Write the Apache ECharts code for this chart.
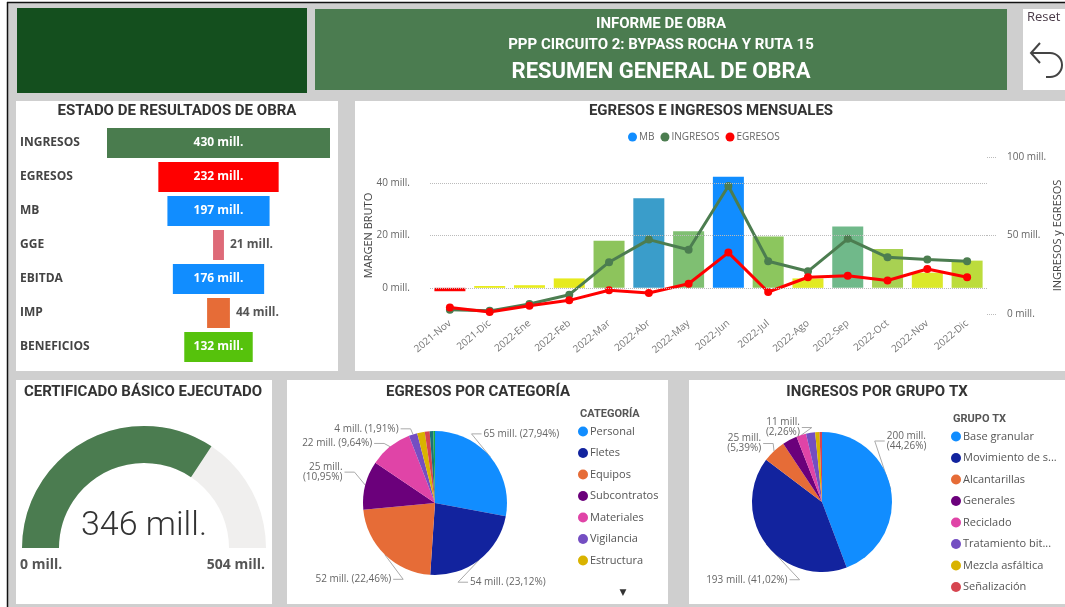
<!DOCTYPE html>
<html>
<head>
<meta charset="utf-8">
<script src="https://cdn.jsdelivr.net/npm/echarts@6/dist/echarts.min.js"></script>
<style>
  html, body { margin: 0; padding: 0; background: #fff; }
  #main { width: 1065px; height: 607px; }
</style>
</head>
<body>
<div id="main"></div>
<script>
// ---- data ----
var estadoCategorias = ['INGRESOS', 'EGRESOS', 'MB', 'GGE', 'EBITDA', 'IMP', 'BENEFICIOS'];
var estadoValores = [430, 232, 197, 21, 176, 44, 132];

var meses = ['2021-Nov', '2021-Dic', '2022-Ene', '2022-Feb', '2022-Mar', '2022-Abr', '2022-May',
  '2022-Jun', '2022-Jul', '2022-Ago', '2022-Sep', '2022-Oct', '2022-Nov', '2022-Dic'];
var margenBruto = [-1.3, 0.7, 1.0, 3.6, 18.0, 34.2, 21.6, 42.5, 19.6, 3.6, 23.4, 14.8, 5.8, 10.4];
var ingresosMes = [2.7, 2.0, 6.4, 12.3, 33.0, 47.4, 40.9, 81.5, 33.6, 27.2, 47.9, 36.1, 34.7, 33.6];
var egresosMes = [4.2, 1.3, 5.3, 8.7, 15.1, 13.4, 19.3, 39.1, 14.0, 23.4, 24.3, 21.3, 28.7, 23.4];

var certificadoEjecutado = 346;
var certificadoTotal = 504;

var categorias = ['Personal', 'Fletes', 'Equipos', 'Subcontratos', 'Materiales', 'Vigilancia',
  'Estructura', 'Otros', 'Varios', 'Resto'];
var egresosCatMill = [65, 54, 52, 25, 22, 4, 4, 3, 2, 1];
var egresosCatPct = [27.94, 23.12, 22.46, 10.95, 9.64, 1.91, 1.70, 1.10, 0.80, 0.38];

var gruposTx = ['Base granular', 'Movimiento de suelos', 'Alcantarillas', 'Generales', 'Reciclado',
  'Tratamiento bituminoso', 'Mezcla asfáltica', 'Señalización'];
var ingresosTxMill = [200, 193, 25, 16, 11, 10, 5, 3];
var ingresosTxPct = [44.26, 41.02, 5.39, 3.40, 2.26, 2.10, 1.00, 0.57];

// ---- styles ----
var estadoColores = ['#4a7c4e', '#ff0000', '#118dff', '#de6a78', '#118dff', '#e66c37', '#56c20c'];
var barColores = ['#ff0000', '#e8ec1c', '#e8ec1c', '#e6ea1e', '#8dc45c', '#3a9dca', '#7fbf72',
  '#118dff', '#8cc65e', '#e2ea24', '#70b98a', '#a8d152', '#dbe82a', '#bcdc3c'];
var pbiColores = ['#118dff', '#12239e', '#e66c37', '#6b007b', '#e044a7', '#744ec2', '#d9b300',
  '#d64550', '#197278', '#1aab40'];
var catLabeled = [0, 1, 2, 3, 4, 5], catWrap = [3];
var txLabeled = [0, 1, 2, 4], txWrap = [0, 2, 4];
// label nudges (px) so the pie labels sit where the report puts them
var catShift = [[-32, -18], [-33, 16], [31, 19], [4, -11], [6, 3], [7, 2]];
var txShift = [[-31, -47], [47, 31], [12, -6], [0, 0], [20, 0]];

var FONT = 'Roboto, "Noto Sans", sans-serif';
var TXT = '"Open Sans", "Noto Sans", sans-serif';

function pctTxt(p) { return p.toFixed(2).replace('.', ',') + '%'; }

function pieData(names, pct, labeled) {
  return names.map(function(n, i) {
    var on = labeled.indexOf(i) >= 0;
    return { name: n, value: pct[i], itemStyle: { color: pbiColores[i] },
      label: { show: on }, labelLine: { show: on } };
  });
}

function pieLabel(mill, pct, wrap) {
  return function(p) {
    var i = p.dataIndex;
    return mill[i] + ' mill.' + (wrap.indexOf(i) >= 0 ? '\n' : ' ') + '(' + pctTxt(pct[i]) + ')';
  };
}

function pieLabelLayout(shift) {
  return function(p) {
    var s = shift[p.dataIndex] || [0, 0];
    var r = p.labelRect, pts = p.labelLinePoints;
    if (!pts) return { dx: s[0], dy: s[1] };
    var x = r.x + s[0], cy = r.y + s[1] + r.height / 2;
    var right = x + r.width / 2 > pts[0][0];
    var ex = right ? x - 2 : x + r.width + 2;
    return { dx: s[0], dy: s[1], labelLinePoints: [pts[0], [ex + (right ? -10 : 10), cy], [ex, cy]] };
  };
}

var estadoMax = Math.max.apply(null, estadoValores);

function panel(x, y, w, h, fill) {
  return { type: 'rect', silent: true, shape: { x: x, y: y, width: w, height: h }, style: { fill: fill } };
}
function sectionTitle(text, cx, top) {
  return { text: text, left: cx, top: top, textAlign: 'center', padding: 0,
    textStyle: { fontFamily: FONT, fontSize: 15, fontWeight: 'bold', color: '#333' } };
}
function headerText(text, y, size) {
  return { type: 'text', silent: true, x: 661, y: y, style: { text: text, fill: '#fff',
    font: 'bold ' + size + 'px Roboto', textAlign: 'center', textVerticalAlign: 'middle' } };
}
function iconLine(x1, y1, x2, y2) {
  return { type: 'line', silent: true, shape: { x1: x1, y1: y1, x2: x2, y2: y2 },
    style: { stroke: '#444', lineWidth: 2 } };
}

var chart = echarts.init(document.getElementById('main'));

var option = {
  animation: false,
  textStyle: { fontFamily: TXT },
  graphic: [
    panel(0, 0, 1065, 607, '#ffffff'),
    panel(8, 3, 1057, 604, '#cfcfcf'),
    { type: 'line', silent: true, shape: { x1: 7.5, y1: 2, x2: 7.5, y2: 607 }, style: { stroke: '#111', lineWidth: 1.5 } },
    { type: 'line', silent: true, shape: { x1: 7, y1: 2.5, x2: 1065, y2: 2.5 }, style: { stroke: '#111', lineWidth: 1.5 } },
    panel(17, 8, 290, 85, '#144f1e'),
    panel(315, 9, 692, 81, '#4b7c50'),
    panel(1023, 9, 42, 81, '#ffffff'),
    panel(16, 101, 322, 270, '#ffffff'),
    panel(355, 101, 710, 270, '#ffffff'),
    panel(16, 380, 256, 224, '#ffffff'),
    panel(287, 380, 381, 224, '#ffffff'),
    panel(689, 380, 376, 224, '#ffffff'),
    headerText('INFORME DE OBRA', 24, 15),
    headerText('PPP CIRCUITO 2: BYPASS ROCHA Y RUTA 15', 45, 15),
    headerText('RESUMEN GENERAL DE OBRA', 72, 22),
    { type: 'text', silent: true, x: 1027, y: 11, style: { text: 'Reset', fill: '#4a3b48', font: '13px "Open Sans"' } },
    { type: 'polyline', silent: true, shape: { points: [[1040, 43], [1031, 53], [1040, 63]] },
      style: { stroke: '#444', lineWidth: 2, fill: null } },
    iconLine(1031, 53, 1050, 53),
    { type: 'arc', silent: true, shape: { cx: 1050, cy: 65, r: 12, startAngle: -Math.PI / 2, endAngle: Math.PI / 2, clockwise: true },
      style: { stroke: '#444', lineWidth: 2, fill: null } },
    iconLine(1050, 77, 1046, 77),
    { type: 'text', silent: true, x: 20, y: 565, style: { text: '0 mill.', fill: '#555',
      font: 'bold 14px "Open Sans"', textVerticalAlign: 'middle' } },
    { type: 'text', silent: true, x: 265, y: 565, style: { text: certificadoTotal + ' mill.', fill: '#555',
      font: 'bold 14px "Open Sans"', textAlign: 'right', textVerticalAlign: 'middle' } },
    { type: 'text', silent: true, x: 580, y: 414, style: { text: 'CATEGORÍA', fill: '#555',
      font: 'bold 11px Roboto', textVerticalAlign: 'middle' } },
    { type: 'text', silent: true, x: 953, y: 419, style: { text: 'GRUPO TX', fill: '#555',
      font: 'bold 11px Roboto', textVerticalAlign: 'middle' } },
    { type: 'text', silent: true, x: 623, y: 593, style: { text: '▼', fill: '#333',
      font: '9px "DejaVu Sans"', textAlign: 'center', textVerticalAlign: 'middle' } }
  ],
  title: [
    sectionTitle('ESTADO DE RESULTADOS DE OBRA', 177, 104),
    sectionTitle('EGRESOS E INGRESOS MENSUALES', 711, 104),
    sectionTitle('CERTIFICADO BÁSICO EJECUTADO', 143, 385),
    sectionTitle('EGRESOS POR CATEGORÍA', 478, 385),
    sectionTitle('INGRESOS POR GRUPO TX', 877, 385)
  ],
  legend: [
    { data: ['MB', 'INGRESOS', 'EGRESOS'], left: 628, top: 132, icon: 'circle', itemWidth: 9, itemHeight: 9,
      itemGap: 6, padding: 0, textStyle: { fontSize: 10, color: '#666', padding: [0, 0, 0, -3] } },
    { data: categorias.slice(0, 7), orient: 'vertical', left: 578, top: 426, icon: 'circle', itemWidth: 10,
      itemHeight: 10, itemGap: 10.5, padding: 0, selectedMode: false,
      textStyle: { fontSize: 11, color: '#555', padding: [0, 0, 0, -3] } },
    { data: gruposTx, orient: 'vertical', left: 951, top: 431, icon: 'circle', itemWidth: 10,
      itemHeight: 10, itemGap: 10.5, padding: 0, selectedMode: false,
      textStyle: { fontSize: 11, color: '#555', width: 99, overflow: 'truncate', ellipsis: '...', padding: [0, 0, 0, -3] } }
  ],
  grid: [
    { left: 107, top: 126, width: 223, height: 238, outerBoundsMode: 'none' },
    { left: 430, top: 157, width: 557, height: 157, outerBoundsMode: 'none' }
  ],
  xAxis: [
    { gridIndex: 0, type: 'value', min: 0, max: estadoMax, show: false },
    { gridIndex: 1, type: 'category', data: meses, axisLine: { show: false }, axisTick: { show: false },
      axisLabel: { rotate: 40, fontSize: 10, color: '#777', margin: 8 } }
  ],
  yAxis: [
    { gridIndex: 0, type: 'category', data: estadoCategorias, inverse: true,
      axisLine: { show: false }, axisTick: { show: false },
      axisLabel: { align: 'left', margin: 87, fontFamily: TXT, fontSize: 12, fontWeight: 'bold', color: '#444' } },
    { gridIndex: 1, type: 'value', min: -10, max: 50, interval: 10, splitLine: { show: false },
      axisLabel: { fontSize: 10, color: '#666', margin: 20,
        formatter: function(v) { return (v >= 0 && v % 20 === 0) ? v + ' mill.' : ''; } },
      name: 'MARGEN BRUTO', nameLocation: 'middle', nameGap: 56, nameRotate: 90, nameMoveOverlap: false,
      nameTextStyle: { fontSize: 11, color: '#444' } },
    { gridIndex: 1, type: 'value', position: 'right', min: 0, max: 100, interval: 50, splitLine: { show: false },
      axisTick: { show: true, length: 10, lineStyle: { type: 'dotted', color: '#bbb' } },
      axisLabel: { fontSize: 10, color: '#666', margin: 20, formatter: '{value} mill.' },
      name: 'INGRESOS y EGRESOS', nameLocation: 'middle', nameGap: 65, nameRotate: 90, nameMoveOverlap: false,
      nameTextStyle: { fontSize: 11, color: '#444' } }
  ],
  series: [
    { type: 'bar', xAxisIndex: 0, yAxisIndex: 0, stack: 'f', silent: true, barWidth: 30,
      itemStyle: { color: 'transparent' },
      data: estadoValores.map(function(v) { return (estadoMax - v) / 2; }) },
    { type: 'bar', xAxisIndex: 0, yAxisIndex: 0, stack: 'f', barWidth: 30,
      data: estadoValores.map(function(v, i) {
        var small = v < 60;
        return { value: v, itemStyle: { color: estadoColores[i] },
          label: { show: true, position: small ? 'right' : 'inside', distance: 6,
            color: small ? '#555' : '#fff', fontFamily: TXT, fontWeight: 'bold', fontSize: 12,
            formatter: v + ' mill.' } };
      }) },
    { name: 'MB', type: 'bar', xAxisIndex: 1, yAxisIndex: 1, barWidth: 31, itemStyle: { color: '#118dff' },
      data: margenBruto.map(function(v, i) { return { value: v, itemStyle: { color: barColores[i] } }; }),
      markLine: { silent: true, symbol: 'none', label: { show: false },
        lineStyle: { type: 'dotted', color: '#bbb', width: 1 },
        data: [{ yAxis: 0 }, { yAxis: 20 }, { yAxis: 40 }] } },
    { name: 'INGRESOS', type: 'line', xAxisIndex: 1, yAxisIndex: 2, data: ingresosMes,
      symbol: 'circle', symbolSize: 8, lineStyle: { width: 3, color: '#4c7d50' }, itemStyle: { color: '#4c7d50' } },
    { name: 'EGRESOS', type: 'line', xAxisIndex: 1, yAxisIndex: 2, data: egresosMes,
      symbol: 'circle', symbolSize: 8, lineStyle: { width: 3, color: '#ff0000' }, itemStyle: { color: '#ff0000' } },
    { type: 'gauge', center: [144, 548], radius: 122, startAngle: 180, endAngle: 0,
      min: 0, max: certificadoTotal, splitNumber: 1,
      progress: { show: true, width: 37, itemStyle: { color: '#4b7c50' } },
      axisLine: { lineStyle: { width: 37, color: [[1, '#f0efee']] } },
      pointer: { show: false }, axisTick: { show: false }, splitLine: { show: false },
      axisLabel: { show: false }, title: { show: false },
      detail: { offsetCenter: [0, -22], fontSize: 34, fontWeight: 300, fontFamily: FONT, color: '#333',
        formatter: '{value} mill.' },
      data: [{ value: certificadoEjecutado }] },
    { type: 'pie', center: [435, 503], radius: 72, startAngle: 90, clockwise: true,
      label: { fontSize: 10, color: '#666', formatter: pieLabel(egresosCatMill, egresosCatPct, catWrap) },
      labelLine: { length: 8, length2: 14, lineStyle: { color: '#aaa' } },
      labelLayout: pieLabelLayout(catShift),
      data: pieData(categorias, egresosCatPct, catLabeled) },
    { type: 'pie', center: [822, 502], radius: 70, startAngle: 90, clockwise: true,
      label: { fontSize: 10, color: '#666', formatter: pieLabel(ingresosTxMill, ingresosTxPct, txWrap) },
      labelLine: { length: 8, length2: 14, lineStyle: { color: '#aaa' } },
      labelLayout: pieLabelLayout(txShift),
      data: pieData(gruposTx, ingresosTxPct, txLabeled) }
  ]
};

chart.setOption(option);
</script>
</body>
</html>
